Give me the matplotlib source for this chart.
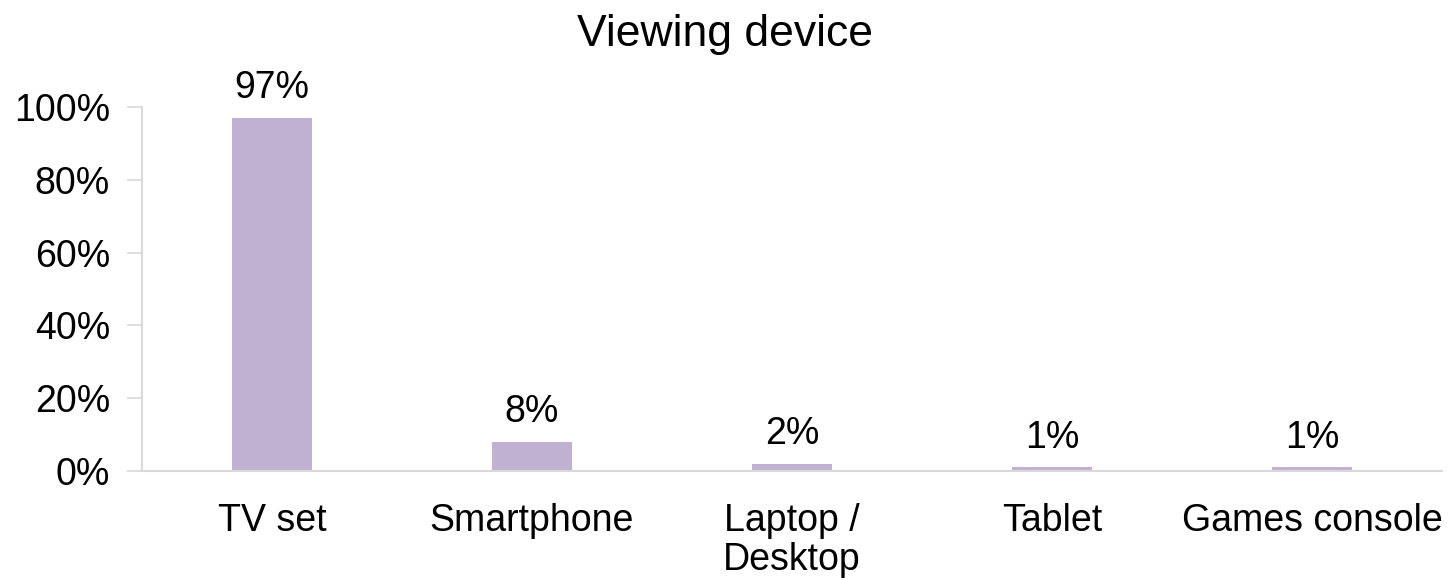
import matplotlib
matplotlib.use("Agg")
import matplotlib.pyplot as plt
from matplotlib.ticker import FuncFormatter

categories = ["TV set", "Smartphone", "Laptop /\nDesktop", "Tablet", "Games console"]
values = [97, 8, 2, 1, 1]
yticks = [0, 20, 40, 60, 80, 100]

plt.rcParams['font.family'] = ['Liberation Sans', 'DejaVu Sans']
fs = 27

fig = plt.figure(figsize=(14.5, 5.8), dpi=100)
ax = fig.add_axes([0.0979, 0.188, 0.8966, 0.6276])
x = range(len(categories))
bars = ax.bar(x, values, width=0.31, color='#c0b1d3', zorder=2)
for xi, v in zip(x, values):
    ax.annotate(f"{v}%", (xi, v), xytext=(0, 14), textcoords='offset points',
                ha='center', va='baseline', fontsize=fs, color='#000000')

ax.set_xlim(-0.5, 4.5)
ax.set_ylim(0, 100)
ax.set_yticks(yticks)
ax.yaxis.set_major_formatter(FuncFormatter(lambda v, p: f"{int(v)}%"))
ax.set_xticks(list(x))
ax.set_xticklabels(categories, fontsize=fs, va='top', linespacing=1.1)
ax.tick_params(axis='x', length=0, pad=23)
ax.tick_params(axis='y', length=11, width=1.2, color='#d9d9d9', labelsize=fs, pad=12)
for s in ['top', 'right']:
    ax.spines[s].set_visible(False)
for s in ['left', 'bottom']:
    ax.spines[s].set_color('#d9d9d9')
    ax.spines[s].set_linewidth(1.5)

fig.text(0.5, 0.94, "Viewing device", ha='center', va='center', fontsize=32)
fig.savefig("out.png", dpi=100)
